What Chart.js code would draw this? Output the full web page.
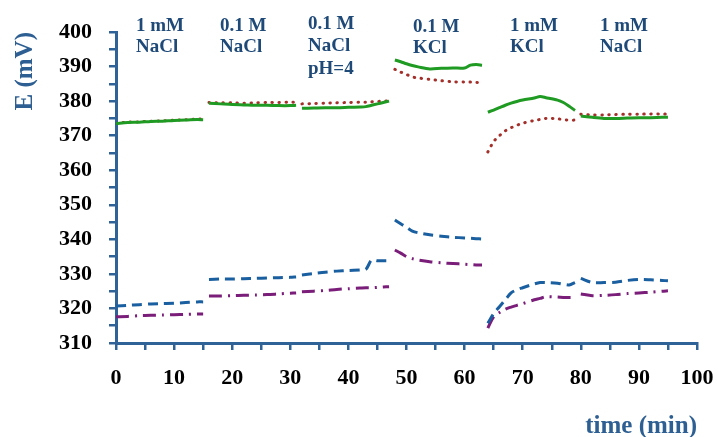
<!DOCTYPE html>
<html>
<head>
<meta charset="utf-8">
<script src="https://cdn.jsdelivr.net/npm/chart.js@4/dist/chart.umd.min.js"></script>
<style>
html,body{margin:0;padding:0;background:#fff;}
#wrap{width:718px;height:437px;position:relative;}
</style>
</head>
<body>
<div id="wrap"><canvas id="c" width="718" height="437"></canvas></div>
<script>
// time (min); null value entries separate the measurement segments
const time = [
  0,2,4,6,8,10,12,14,15, 15.5,
  16,18,20,22,24,26,28,30,31, 31.5,
  32,34,36,38,40,42,43,44,45,46,47, 47.5,
  48,49,50,51,52,54,56,58,60,61,62,63, 63.5,
  64,65,66,67,68,69,70,72,73,74,76,77,78,79, 79.5,
  80,82,84,86,88,90,92,94,95
];
const greenSolid = [
  373.5,373.8,373.9,374.1,374.2,374.4,374.5,374.7,374.6, null,
  379.4,379.2,379.0,378.9,378.8,378.8,378.7,378.7,378.8, null,
  377.9,378.0,378.1,378.1,378.2,378.3,378.4,378.8,379.2,379.6,380.0, null,
  391.9,391.4,390.8,390.3,389.9,389.3,389.5,389.6,389.6,390.4,390.6,390.4, null,
  376.8,377.4,378.1,378.8,379.4,379.9,380.3,380.9,381.3,381.0,380.3,379.6,378.5,377.3, null,
  375.7,375.3,375.0,375.0,375.1,375.2,375.2,375.3,375.3
];
const redDotted = [
  373.6,373.9,374.0,374.2,374.3,374.5,374.6,374.8,374.8, null,
  379.6,379.5,379.5,379.4,379.5,379.6,379.6,379.7,379.7, null,
  379.2,379.3,379.4,379.5,379.6,379.7,379.7,379.8,379.9,380.0,380.1, null,
  389.2,388.4,387.7,387.0,386.7,386.3,385.9,385.6,385.5,385.5,385.4,385.4, null,
  365.3,368.3,370.0,371.4,372.3,373.0,373.6,374.4,374.7,375.0,374.9,374.6,374.5,374.5, null,
  376.2,376.0,376.0,376.1,376.2,376.2,376.3,376.3,376.3
];
const blueDashed = [
  320.7,320.9,321.1,321.3,321.4,321.5,321.7,321.9,321.9, null,
  328.4,328.5,328.5,328.6,328.7,328.8,328.9,329.0,329.1, null,
  329.7,330.1,330.5,330.8,331.0,331.1,331.3,334.0,333.8,333.8,333.8, null,
  345.6,344.5,343.5,342.4,341.9,341.3,340.9,340.6,340.4,340.3,340.2,340.1, null,
  315.7,318.5,320.5,322.5,324.5,325.4,326.0,327.1,327.5,327.5,327.3,327.0,326.8,327.5, null,
  328.7,327.5,327.5,327.6,328.1,328.4,328.3,328.1,328.0
];
const purpleDashDot = [
  317.6,317.7,317.9,318.0,318.1,318.2,318.3,318.4,318.4, null,
  323.6,323.6,323.7,323.8,323.9,324.0,324.2,324.4,324.5, null,
  324.8,325.0,325.2,325.5,325.7,325.9,326.0,326.0,326.1,326.2,326.3, null,
  336.9,336.0,335.0,334.4,334.0,333.5,333.2,333.0,332.8,332.7,332.6,332.6, null,
  314.3,317.6,318.8,319.8,320.4,320.9,321.4,322.5,322.9,323.4,323.3,323.2,323.2,323.2, null,
  324.2,323.7,323.8,324.0,324.3,324.5,324.7,325.0,325.1
];
const segmentLabels = [
  ["1 mM","NaCl"],
  ["0.1 M","NaCl"],
  ["0.1 M","NaCl","pH=4"],
  ["0.1 M","KCl"],
  ["1 mM","KCl"],
  ["1 mM","NaCl"]
];
const xTickValues = [0,10,20,30,40,50,60,70,80,90,100];
const yTickValues = [310,320,330,340,350,360,370,380,390,400];

const pts = vals => time.map((t,i)=>({x:t,y:vals[i]}));
const AXIS = '#2f6296';
const TITLE = '#2e5f92';
const ANNOT = '#1f4a78';
const SERIF = '"Liberation Serif", "DejaVu Serif", serif';

const labelPos = [
  {x:136, y:[26,47]},
  {x:220, y:[26,47]},
  {x:308, y:[24,46,69]},
  {x:413, y:[27,48]},
  {x:510, y:[26,47]},
  {x:600, y:[26,47]}
];
const annotPlugin = {
  id:'annot',
  afterDraw(chart){
    const ctx = chart.ctx;
    ctx.save();
    ctx.font = 'bold 19px ' + SERIF;
    ctx.fillStyle = ANNOT;
    ctx.textAlign = 'left';
    ctx.textBaseline = 'middle';
    segmentLabels.forEach((lines,i)=>{
      lines.forEach((s,j)=>ctx.fillText(s, labelPos[i].x, labelPos[i].y[j]));
    });
    ctx.restore();
  }
};

const common = {pointRadius:0, borderWidth:3, fill:false, spanGaps:false, tension:0.3};
new Chart(document.getElementById('c'), {
  type:'line',
  data:{datasets:[
    Object.assign({label:'green', data:pts(greenSolid), borderColor:'#1f9a22'}, common),
    Object.assign({label:'red', data:pts(redDotted), borderColor:'#a3302a', borderDash:[0.5,6.5], borderCapStyle:'round'}, common),
    Object.assign({label:'blue', data:pts(blueDashed), borderColor:'#1a5fa0', borderDash:[10,6]}, common),
    Object.assign({label:'purple', data:pts(purpleDashDot), borderColor:'#7a1e7a', borderDash:[13,6,2,6]}, common)
  ]},
  options:{
    responsive:false,
    animation:false,
    layout:{padding:{left:0, top:32, right:21, bottom:0}},
    plugins:{legend:{display:false}, tooltip:{enabled:false}},
    scales:{
      x:{
        type:'linear', min:0, max:100,
        afterFit(s){ s.height = 94; s.paddingLeft = 0; s.paddingRight = 0; },
        afterBuildTicks(s){ s.ticks = []; for(let v=0; v<=100; v+=5) s.ticks.push({value:v}); },
        ticks:{
          autoSkip:false, maxRotation:0, padding:15, color:'#000',
          font:{family:SERIF, size:22, weight:'bold'},
          callback:v => xTickValues.includes(v) ? String(v) : ''
        },
        grid:{drawOnChartArea:false, drawTicks:true, tickLength:7, color:AXIS, lineWidth:2.5},
        border:{color:AXIS, width:3},
        title:{display:true, text:'time (min)', align:'end', color:TITLE,
               font:{family:SERIF, size:25, weight:'bold', lineHeight:1}, padding:{top:0,bottom:-2}}
      },
      y:{
        min:310, max:400,
        afterFit(s){ s.width = 116; s.paddingTop = 0; s.paddingBottom = 0; },
        afterBuildTicks(s){ s.ticks = []; for(let v=310; v<=400; v+=5) s.ticks.push({value:v}); },
        ticks:{
          autoSkip:false, padding:17, color:'#000',
          font:{family:SERIF, size:22, weight:'bold'},
          callback:v => yTickValues.includes(v) ? String(v) : ''
        },
        grid:{drawOnChartArea:false, drawTicks:true, tickLength:7, color:AXIS, lineWidth:2.5},
        border:{color:AXIS, width:3},
        title:{display:true, text:'E (mV)', align:'end', color:TITLE,
               font:{family:SERIF, size:25, weight:'bold', lineHeight:1.2}, padding:{top:11,bottom:0}}
      }
    }
  },
  plugins:[annotPlugin]
});
</script>
</body>
</html>
